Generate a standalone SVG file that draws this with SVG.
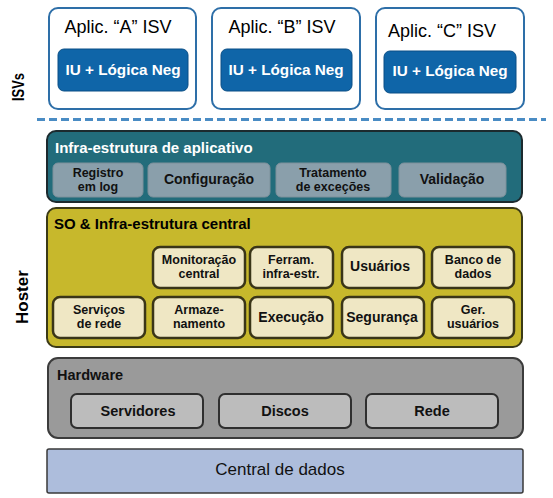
<svg xmlns="http://www.w3.org/2000/svg" width="553" height="498" viewBox="0 0 553 498">
<style>
text{font-family:"Liberation Sans",Arial,sans-serif}
.isv{fill:#fff;stroke:#2e6fa8;stroke-width:2}
.ui{fill:#0f65a8;stroke:#0b4f86;stroke-width:1}
.t1{font-size:18px;fill:#000}
.tw{font-size:15px;font-weight:bold;fill:#fff}
.side{font-size:17px;font-weight:bold;fill:#000}
.app{fill:#226c7b;stroke:#1c2a2e;stroke-width:2}
.appsub{fill:#8a9fab;stroke:#7c909b;stroke-width:1}
.core{fill:#c7b82c;stroke:#3b3a16;stroke-width:2}
.cs{fill:#efe7c4;stroke:#3a3518;stroke-width:2.5}
.hw{fill:#9a9a9a;stroke:#3c3c3c;stroke-width:2}
.hws{fill:#bcbcbc;stroke:#2f2f2f;stroke-width:2}
.dc{fill:#adbddc;stroke:#3a3a3a;stroke-width:1.5}
.lb{font-size:14px;font-weight:bold;fill:#111;text-anchor:middle}
.l2{font-size:12.5px;font-weight:bold;fill:#111;text-anchor:middle}
.hd{font-size:15px;font-weight:bold}
</style>
<rect width="553" height="498" fill="#fff"/>
<text class="side" transform="translate(24,101) rotate(-90)" textLength="28" lengthAdjust="spacingAndGlyphs">ISVs</text>
<text class="side" transform="translate(28,324) rotate(-90)">Hoster</text>
<g id="connectors">
<line x1="37" y1="119.5" x2="546" y2="119.5" stroke="#4a8cc4" stroke-width="3" stroke-dasharray="8,4"/>
</g>
<g id="isvA">
<rect class="isv" x="49" y="8" width="147" height="101" rx="9"/>
<text class="t1" x="118" y="33" text-anchor="middle">Aplic. “A” ISV</text>
<rect class="ui" x="58" y="49" width="130" height="42" rx="6"/>
<text class="tw" x="123" y="75" text-anchor="middle" textLength="115" lengthAdjust="spacingAndGlyphs">IU + Lógica Neg</text>
</g>
<g id="isvB">
<rect class="isv" x="212" y="8" width="148" height="101" rx="9"/>
<text class="t1" x="282" y="33" text-anchor="middle">Aplic. “B” ISV</text>
<rect class="ui" x="221" y="49" width="131" height="42" rx="6"/>
<text class="tw" x="286" y="75" text-anchor="middle" textLength="115" lengthAdjust="spacingAndGlyphs">IU + Lógica Neg</text>
</g>
<g id="isvC">
<rect class="isv" x="376" y="8" width="148" height="101" rx="9"/>
<text class="t1" x="442" y="37" text-anchor="middle">Aplic. “C” ISV</text>
<rect class="ui" x="384" y="51" width="132" height="42" rx="6"/>
<text class="tw" x="450" y="76" text-anchor="middle" textLength="115" lengthAdjust="spacingAndGlyphs">IU + Lógica Neg</text>
</g>
<g id="appinfra">
<rect class="app" x="47" y="131" width="475" height="71" rx="9"/>
<text class="hd" x="55" y="153" fill="#fff">Infra-estrutura de aplicativo</text>
</g>
<g id="registro"><rect class="appsub" x="53" y="163" width="90" height="34" rx="5"/><text class="l2" x="98" y="177">Registro</text><text class="l2" x="98" y="191">em log</text></g>
<g id="configuracao"><rect class="appsub" x="148" y="163" width="122" height="34" rx="5"/><text class="lb" x="209" y="184">Configuração</text></g>
<g id="tratamento"><rect class="appsub" x="276" y="163" width="115" height="34" rx="5"/><text class="l2" x="333" y="177">Tratamento</text><text class="l2" x="333" y="191">de exceções</text></g>
<g id="validacao"><rect class="appsub" x="399" y="163" width="107" height="34" rx="5"/><text class="lb" x="452" y="184">Validação</text></g>
<g id="soinfra">
<rect class="core" x="47" y="208" width="475" height="139" rx="9"/>
<text class="hd" x="54" y="229" fill="#000">SO &amp; Infra-estrutura central</text>
</g>
<g id="monitoracao"><rect class="cs" x="153" y="247" width="92" height="41" rx="7"/><text class="l2" x="199" y="264">Monitoração</text><text class="l2" x="199" y="278">central</text></g>
<g id="ferram"><rect class="cs" x="250" y="247" width="83" height="41" rx="7"/><text class="l2" x="291" y="264">Ferram.</text><text class="l2" x="291" y="278">infra-estr.</text></g>
<g id="usuarios"><rect class="cs" x="342" y="247" width="82" height="41" rx="7"/><text class="lb" x="380" y="271">Usuários</text></g>
<g id="banco"><rect class="cs" x="432" y="247" width="82" height="41" rx="7"/><text class="l2" x="473" y="264">Banco de</text><text class="l2" x="473" y="278">dados</text></g>
<g id="servicos"><rect class="cs" x="53" y="297" width="92" height="41" rx="7"/><text class="l2" x="99" y="314">Serviços</text><text class="l2" x="99" y="328">de rede</text></g>
<g id="armazenamento"><rect class="cs" x="153" y="297" width="92" height="41" rx="7"/><text class="l2" x="199" y="314">Armaze-</text><text class="l2" x="199" y="328">namento</text></g>
<g id="execucao"><rect class="cs" x="250" y="297" width="83" height="41" rx="7"/><text class="lb" x="291" y="322">Execução</text></g>
<g id="seguranca"><rect class="cs" x="342" y="297" width="82" height="41" rx="7"/><text class="lb" x="382" y="322">Segurança</text></g>
<g id="gerusuarios"><rect class="cs" x="432" y="297" width="82" height="41" rx="7"/><text class="l2" x="473" y="314">Ger.</text><text class="l2" x="473" y="328">usuários</text></g>
<g id="hardware">
<rect class="hw" x="48" y="358" width="475" height="80" rx="10"/>
<text class="hd" x="57" y="380" fill="#111" style="font-size:14.5px">Hardware</text>
</g>
<g id="servidores"><rect class="hws" x="71" y="394" width="132" height="34" rx="6"/><text class="lb" x="138" y="416" style="font-size:14.5px">Servidores</text></g>
<g id="discos"><rect class="hws" x="219" y="394" width="132" height="34" rx="6"/><text class="lb" x="285" y="416" style="font-size:14.5px">Discos</text></g>
<g id="rede"><rect class="hws" x="366" y="394" width="132" height="34" rx="6"/><text class="lb" x="432" y="416" style="font-size:14.5px">Rede</text></g>
<g id="central">
<rect class="dc" x="47" y="449" width="476" height="44" rx="2"/>
<text x="280" y="475" text-anchor="middle" style="font-size:17px" fill="#111">Central de dados</text>
</g>
</svg>
